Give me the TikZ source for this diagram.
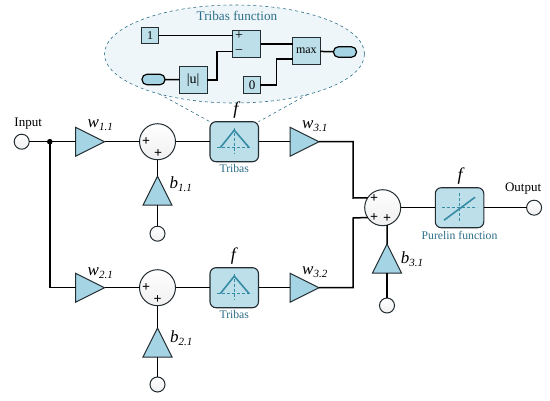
\documentclass[tikz,border=0pt]{standalone}
\usepackage{fontspec}
\setmainfont{Liberation Serif}
\usetikzlibrary{positioning, shapes.geometric, backgrounds}
\definecolor{gainblue}{RGB}{165,213,228}
\definecolor{boxblue}{RGB}{188,223,234}
\definecolor{bubbleblue}{RGB}{238,246,249}
\definecolor{tealtext}{RGB}{45,110,135}
\definecolor{icontint}{RGB}{55,140,165}
\definecolor{edgedark}{RGB}{35,45,50}
\newcommand{\gainlab}[2]{{\fontsize{17}{17}\selectfont\itshape #1}\raisebox{-3pt}{\fontsize{11}{11}\selectfont\itshape #2}}
\newcommand{\tribasicon}[1]{%
    \draw[icondash] ([shift={(-17,6)}]#1.center) -- ([shift={(18,6)}]#1.center);
    \draw[icondash] ([shift={(0,-14)}]#1.center) -- ([shift={(0,12)}]#1.center);
    \draw[iconline] ([shift={(-14,6)}]#1.center) -- ([shift={(0,-11.5)}]#1.center) -- ([shift={(15,6)}]#1.center);
}

\begin{document}
\begin{tikzpicture}[
    x=1pt, y=-1pt,
    wire/.style={line width=1.5pt, black},
    port/.style={circle, draw=edgedark, line width=1pt, top color=white, bottom color=gray!12,
                 minimum size=15pt, inner sep=0pt, outer sep=0pt},
    sumnode/.style={circle, draw=edgedark, line width=1pt, top color=white, bottom color=gray!12,
                    minimum size=36pt, inner sep=0pt, outer sep=0pt},
    gain/.style={isosceles triangle, isosceles triangle stretches, draw=edgedark, line width=1pt, fill=gainblue,
                 minimum width=29pt, minimum height=29pt, inner sep=0pt, outer sep=0pt},
    gainright/.style={gain, shape border rotate=0, anchor=lower side},
    gainup/.style={gain, shape border rotate=90, anchor=apex},
    func/.style={rectangle, rounded corners=6pt, draw=edgedark, line width=1.1pt, fill=boxblue,
                 minimum width=48.5pt, minimum height=40pt, inner sep=0pt, outer sep=0pt},
    sub/.style={rectangle, draw=edgedark, line width=1.1pt, fill=boxblue, inner sep=0pt, outer sep=0pt,
                font=\fontsize{12}{12}\selectfont},
    pill/.style={rectangle, rounded corners=5pt, draw=black, line width=1.2pt, fill=gainblue,
                 minimum width=23pt, minimum height=10.5pt, inner sep=0pt, outer sep=0pt},
    sign/.style={font=\fontsize{14}{14}\selectfont\bfseries, inner sep=0pt},
    plain/.style={font=\fontsize{13}{13}\selectfont, inner sep=0pt},
    caption/.style={font=\fontsize{11.7}{11.7}\selectfont, text=tealtext, inner sep=0pt},
    ftext/.style={font=\fontsize{18}{18}\selectfont\itshape, inner sep=0pt},
    weight/.style={anchor=base west, inner sep=0pt},
    lens/.style={dashed, line width=0.6pt, tealtext},
    icondash/.style={densely dashed, line width=0.9pt, icontint},
    iconline/.style={line width=1.6pt, icontint},
]
    \useasboundingbox (0,0) rectangle (550,400);

    % Tribas bubble
    \node[ellipse, draw=tealtext, dashed, line width=0.6pt, fill=bubbleblue, minimum width=260pt,
          minimum height=98pt, inner sep=0pt, outer sep=0pt] (bubble) at (234.5,54) {};
    \node[caption, font=\fontsize{13.2}{13.2}\selectfont] (bubbletitle) at (237,16) {Tribas function};
    \node[sub, minimum width=17pt, minimum height=16.7pt] (one) at (150.2,35.4) {1};
    \node[sub, minimum width=27.8pt, minimum height=27.5pt] (diff) at (246.6,43.8) {};
    \node[sign, font=\fontsize{14}{14}\selectfont] (diffplus) at ([shift={(-7.5,-8)}]diff.center) {+};
    \node[sign, font=\fontsize{14}{14}\selectfont] (diffminus) at ([shift={(-7.5,8)}]diff.center) {−};
    \node[sub, minimum width=27.3pt, minimum height=26.8pt] (maxblk) at (306.4,51.1) {max};
    \node[sub, minimum width=27.7pt, minimum height=27pt, font=\fontsize{14}{14}\selectfont] (absblk) at (193.2,79.8) {|u|};
    \node[sub, minimum width=16.5pt, minimum height=17pt, font=\fontsize{13}{13}\selectfont] (zero) at (252,84.8) {0};
    \node[pill] (pillin) at (153.5,79.5) {};
    \node[pill] (pillout) at (345,52) {};

    % Inputs and top row
    \node[port] (input) at (21.7,141.7) {};
    \node[plain, above=4.5pt of input, xshift=6.5pt] (inputlab) {Input};
    \node[gainright, right=46.3pt of input] (w11) {};
    \node[sumnode, right=35pt of w11.apex, anchor=west] (sum1) {};
    \node[func, right=34.5pt of sum1] (tri1) {};
    \node[gainright, right=31.5pt of tri1] (w31) {};
    \node[gainup, below=16.5pt of sum1] (b11) {};
    \node[port, below=21pt of b11.lower side, anchor=north] (bias1) {};

    % Bottom row
    \node[gainright] (w21) at (75.5,287.7) {};
    \node[sumnode, right=35pt of w21.apex, anchor=west] (sum2) {};
    \node[func, right=34.5pt of sum2] (tri2) {};
    \node[gainright, right=31.5pt of tri2] (w32) {};
    \node[gainup, below=22.3pt of sum2] (b21) {};
    \node[port, below=20pt of b21.lower side, anchor=north] (bias2) {};

    % Output side
    \node[sumnode] (sum3) at (382.7,207.7) {};
    \node[func, right=34.6pt of sum3] (pure) {};
    \node[port, right=42.8pt of pure] (output) {};
    \node[plain, above=5.5pt of output, xshift=-11pt] (outputlab) {Output};
    \node[gainup, below=18.3pt of sum3, xshift=4.3pt] (b31) {};
    \node[port, below=25pt of b31.lower side, anchor=north] (bias3) {};

    % Icons
    \tribasicon{tri1}
    \tribasicon{tri2}
    \draw[icondash] ([xshift=-18pt]pure.center) -- ([xshift=17pt]pure.center);
    \draw[icondash] ([yshift=14.5pt]pure.center) -- ([yshift=-14.5pt]pure.center);
    \draw[iconline] ([shift={(-15.5,12.5)}]pure.center) -- ([shift={(15.5,-10.5)}]pure.center);

    % Labels
    \node[ftext, above=3pt of tri1, xshift=1.5pt] (f1) {f};
    \node[ftext, above=3pt of tri2, xshift=-1pt] (f2) {f};
    \node[ftext, above=3pt of pure, xshift=0.5pt] (f3) {f};
    \node[caption, below=2.5pt of tri1] (tri1lab) {Tribas};
    \node[caption, below=2.5pt of tri2] (tri2lab) {Tribas};
    \node[caption, below=3pt of pure] (purelab) {Purelin function};
    \node[weight] (w11lab) at ([xshift=-17pt,yshift=14.7pt]w11.apex) {\gainlab{w}{1.1}};
    \node[weight] (w21lab) at ([xshift=-17pt,yshift=12.7pt]w21.apex) {\gainlab{w}{2.1}};
    \node[weight] (w31lab) at ([xshift=-17pt,yshift=13.7pt]w31.apex) {\gainlab{w}{3.1}};
    \node[weight] (w32lab) at ([xshift=-17pt,yshift=13pt]w32.apex) {\gainlab{w}{3.2}};
    \node[weight] (b11lab) at ([xshift=12pt,yshift=-12pt]b11.apex) {\gainlab{b}{1.1}};
    \node[weight] (b21lab) at ([xshift=12.5pt,yshift=-14.7pt]b21.apex) {\gainlab{b}{2.1}};
    \node[weight] (b31lab) at ([xshift=13.7pt,yshift=-19pt]b31.apex) {\gainlab{b}{3.1}};

    % Sum signs
    \node[sign] (s1a) at ([xshift=-11.5pt]sum1.center) {+};
    \node[sign] (s1b) at ([shift={(0.5,12)}]sum1.center) {+};
    \node[sign] (s2a) at ([xshift=-11.5pt]sum2.center) {+};
    \node[sign] (s2b) at ([shift={(0,12)}]sum2.center) {+};
    \node[sign] (s3a) at ([shift={(-8.5,-9.5)}]sum3.center) {+};
    \node[sign] (s3b) at ([shift={(-8.5,9.5)}]sum3.center) {+};
    \node[sign] (s3c) at ([shift={(4.5,11)}]sum3.center) {+};

    % Connections
    \coordinate (split) at (49.8,141.7);
    \coordinate (knee1) at (353,198);
    \coordinate (knee2) at (353,218);
    \coordinate (knee3) at (217,51.7);
    \coordinate (knee4) at (276.7,59);
    \draw[wire] (input) -- (w11.lower side);
    \fill (split) circle (2.8pt);
    \draw[wire] (split) |- (w21.lower side);
    \draw[wire] (w11.apex) -- (sum1);
    \draw[wire] (w21.apex) -- (sum2);
    \draw[wire] (sum1) -- (tri1);
    \draw[wire] (sum2) -- (tri2);
    \draw[wire] (tri1) -- (w31.lower side);
    \draw[wire] (tri2) -- (w32.lower side);
    \draw[wire] (bias1) -- (b11.lower side);
    \draw[wire] (bias2) -- (b21.lower side);
    \draw[wire] (bias3) -- (b31.lower side);
    \draw[wire] (b11.apex) -- (sum1);
    \draw[wire] (b21.apex) -- (sum2);
    \draw[wire] (b31.apex) -- (sum3.284);
    \draw[wire] (w31.apex) -| (knee1) -- (sum3.147);
    \draw[wire] (w32.apex) -| (knee2) -- (sum3.213);
    \draw[wire] (sum3) -- (pure);
    \draw[wire] (pure) -- (output);

    % Inside the bubble
    \draw[wire] (one.east) -- (one.east -| diff.west);
    \draw[wire] (pillin) -- (absblk);
    \draw[wire] (absblk) -| (knee3) -- (knee3 -| diff.west);
    \draw[wire] (diff) -- (diff -| maxblk.west);
    \draw[wire] (zero) -| (knee4) -- (knee4 -| maxblk.west);
    \draw[wire] (maxblk) -- (pillout);

    % Lens lines
    \begin{scope}[on background layer]
        \draw[lens] (bubble.208.6) -- (tri1.north west);
        \draw[lens] (bubble.331.4) -- (tri1.north east);
    \end{scope}
\end{tikzpicture}
\end{document}
